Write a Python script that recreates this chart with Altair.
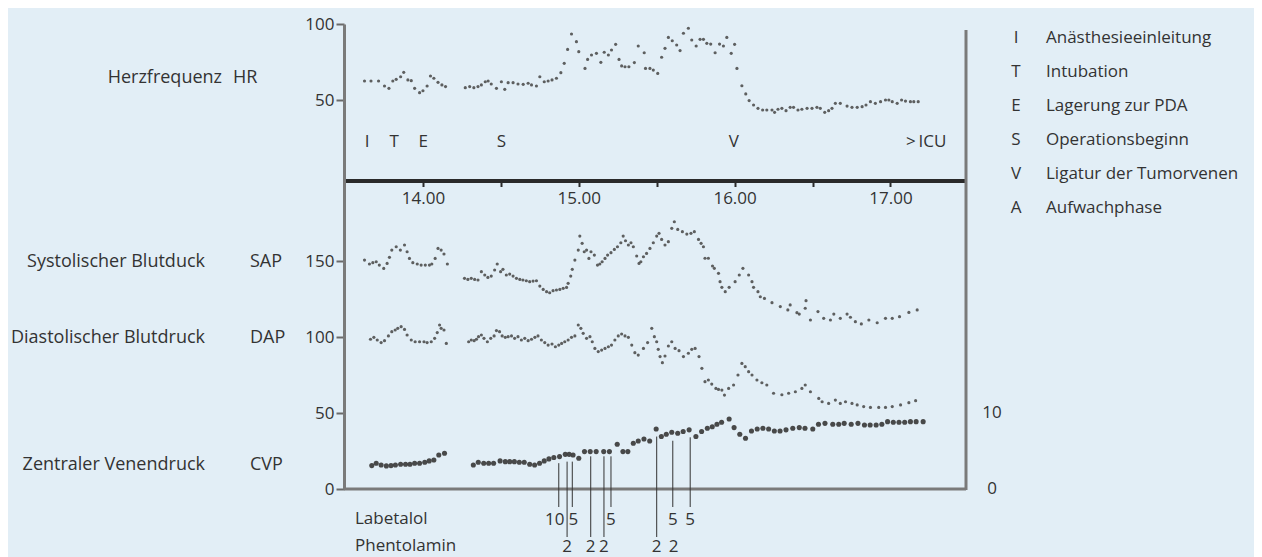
import altair as alt
import pandas as pd

# ---------------- data (time in minutes after 13:00) ----------------
HR1_T = [37.5, 40.0, 42.9, 45.2, 46.9, 48.4, 49.7, 51.4, 52.6, 54.2, 55.5, 56.8, 58.7, 60.0, 61.6, 62.9, 64.2, 65.8, 67.3, 68.7]
HR1_V = [62.5, 62.5, 62.5, 59.2, 57.7, 62.5, 63.6, 65.3, 68.2, 63.2, 62.7, 57.7, 54.8, 56.1, 59.2, 65.8, 64.3, 61.6, 59.9, 58.8]

HR2_T = [76.3, 78.0, 79.6, 81.2, 82.5, 84.0, 85.1, 86.3, 88.3, 90.2, 91.5, 92.8, 94.7, 96.6, 98.6, 100.5, 101.8, 103.7, 105.0, 106.7,
         108.2, 109.7, 111.4, 113.1, 114.4, 115.7, 117.2, 119.1, 120.0, 122.4, 123.4, 124.9, 126.8, 128.5, 129.8, 131.4, 132.6, 134.2, 135.5, 136.5,
         137.8, 139.3, 141.4, 142.9, 145.2, 145.7, 147.4, 148.7, 150.4, 151.9, 153.2, 154.5, 156.0, 157.7, 159.0, 160.3, 162.2, 163.5, 165.2, 166.7,
         168.0, 169.3, 170.8, 172.5, 174.2, 175.7, 177.0, 178.7, 180.0, 180.9, 182.8, 184.3, 185.6, 187.3, 189.0, 190.8, 192.4, 194.4, 195.4, 196.7,
         198.2, 199.8, 201.4, 202.7, 204.4, 205.9, 207.9, 209.8, 211.7, 213.0, 214.7, 216.2, 217.5, 218.8, 220.7, 223.3, 225.2, 227.2, 229.1, 230.6,
         232.3, 234.2, 236.2, 238.1, 239.4, 240.7, 242.6, 244.3, 245.8, 247.7, 249.0, 250.7]
HR2_V = [58.1, 58.8, 58.1, 58.8, 59.9, 62.0, 62.5, 60.5, 57.7, 62.0, 57.0, 61.4, 61.4, 60.5, 60.3, 61.0, 59.9, 59.2, 65.3, 62.0,
         62.5, 63.2, 64.3, 68.0, 74.1, 83.3, 93.4, 88.4, 81.8, 70.8, 76.7, 79.6, 80.7, 74.8, 81.4, 79.6, 82.9, 86.6, 76.7, 72.4,
         71.9, 71.9, 74.6, 85.5, 81.1, 70.8, 70.8, 69.7, 67.5, 78.1, 84.0, 91.2, 89.0, 86.2, 82.5, 93.9, 97.2, 89.5, 85.5, 89.9,
         89.9, 87.3, 86.8, 81.1, 86.8, 85.5, 91.2, 80.7, 86.6, 70.8, 59.4, 54.0, 49.6, 46.7, 44.5, 43.4, 43.4, 43.4, 41.9, 43.9,
         44.5, 43.0, 45.2, 45.2, 43.4, 43.9, 44.5, 44.5, 45.2, 44.5, 41.9, 43.0, 44.5, 47.8, 47.8, 46.0, 45.2, 45.2, 45.6, 46.7,
         48.9, 47.8, 48.9, 50.0, 50.0, 48.9, 47.8, 50.0, 49.3, 48.9, 48.9, 48.9]

SAP1_T = [37.5, 39.4, 40.7, 42.0, 43.2, 44.9, 46.2, 47.1, 48.0, 49.7, 51.3, 52.9, 53.9, 54.8, 56.1, 57.8, 59.3, 60.9, 62.5, 63.4, 64.7, 65.8, 67.0, 68.1, 69.4]
SAP1_V = [150.6, 148.0, 148.9, 149.5, 147.3, 145.1, 148.4, 152.4, 157.2, 159.4, 157.2, 160.5, 156.1, 151.7, 148.9, 148.0, 147.3, 147.3, 147.3, 148.0, 151.7, 158.3, 157.2, 154.6, 148.0]

SAP2_T = [76.0, 77.3, 78.6, 79.9, 81.2, 82.5, 83.8, 85.0, 86.3, 87.6, 88.6, 89.9, 90.8, 92.1, 93.4, 94.7, 96.0, 97.3, 98.5, 99.8,
          101.1, 102.4, 103.7, 105.0, 106.3, 107.6, 108.8, 110.1, 111.4, 112.7, 114.0, 115.3, 115.9, 116.9, 117.5, 118.5, 119.8, 120.4, 121.3, 122.1,
          123.0, 123.9, 124.7, 126.0, 127.2, 128.1, 129.0, 130.1, 131.1, 132.4, 133.7, 134.9, 136.2, 137.1, 138.0, 139.1, 140.1, 141.0, 142.3, 143.2,
          143.9, 144.9, 146.1, 147.4, 148.7, 150.0, 150.9, 151.9, 153.2, 154.5, 155.8, 156.8, 158.1, 159.9, 161.6, 163.2, 164.5, 166.1, 167.1, 168.0,
          168.6, 169.9, 171.5, 172.2, 173.8, 174.4, 175.1, 176.4, 177.9, 180.2, 181.8, 183.2, 185.4, 186.7, 187.3, 189.0, 189.9, 191.5, 194.4, 197.6,
          200.5, 201.4, 204.0, 204.9, 207.2, 207.5, 209.2, 212.1, 214.3, 216.9, 218.2, 220.7, 223.3, 224.6, 226.5, 228.8, 231.7, 234.9, 238.1, 240.7,
          243.5, 247.1, 250.3]
SAP2_V = [138.6, 137.9, 138.6, 137.9, 137.5, 143.0, 140.8, 139.2, 140.1, 144.1, 148.0, 143.0, 144.5, 140.8, 141.4, 140.1, 138.6, 137.9, 137.5, 137.0,
          136.4, 136.8, 137.0, 133.5, 131.3, 129.8, 129.1, 130.5, 130.9, 131.3, 132.0, 132.6, 135.3, 140.1, 144.5, 150.6, 157.2, 166.4, 161.6, 156.1,
          157.2, 151.7, 156.1, 153.9, 147.3, 148.0, 149.5, 151.7, 153.9, 155.5, 157.6, 159.4, 162.0, 166.4, 163.3, 160.5, 162.0, 159.4, 153.3, 148.4,
          149.5, 152.8, 155.0, 158.3, 162.0, 166.4, 168.2, 164.2, 160.5, 162.7, 171.5, 175.8, 170.8, 169.3, 167.7, 168.2, 169.3, 164.2, 161.6, 159.4,
          151.8, 151.8, 146.7, 145.2, 141.9, 136.4, 132.7, 129.8, 132.7, 136.4, 140.8, 145.2, 140.8, 136.4, 132.7, 129.8, 126.5, 125.4, 122.6, 120.0,
          117.8, 121.1, 116.0, 115.1, 118.9, 123.9, 111.2, 116.7, 112.3, 111.2, 115.1, 112.3, 115.1, 113.0, 110.1, 108.6, 111.2, 109.4, 112.3, 112.3,
          113.4, 116.2, 117.8]

DAP1_T = [39.8, 41.1, 42.4, 43.9, 45.2, 46.7, 48.0, 49.3, 50.3, 51.6, 52.9, 53.9, 55.5, 57.0, 58.7, 60.4, 61.6, 63.2, 64.5, 65.5, 66.4, 67.0, 68.1, 69.0]
DAP1_V = [98.5, 99.8, 98.0, 96.3, 97.6, 100.7, 103.5, 104.6, 105.7, 106.8, 105.0, 101.3, 98.0, 96.9, 96.9, 96.9, 96.3, 96.9, 99.1, 102.9, 107.9, 105.7, 104.6, 95.8]

DAP2_T = [77.6, 78.6, 79.7, 80.6, 81.4, 82.5, 83.5, 84.8, 86.1, 87.4, 88.3, 89.5, 90.5, 91.7, 92.8, 94.1, 95.3, 96.6, 97.9, 99.2,
          100.5, 101.8, 103.1, 104.3, 105.6, 106.9, 108.2, 109.7, 111.0, 112.3, 113.4, 114.6, 115.9, 117.2, 118.5, 119.8, 120.8, 121.7, 123.0, 124.3,
          125.2, 126.2, 127.5, 128.8, 130.1, 131.4, 132.6, 133.9, 135.2, 136.5, 137.8, 139.1, 140.4, 141.6, 142.9, 144.9, 146.5, 148.1, 149.1, 150.0,
          150.6, 151.3, 152.2, 153.2, 154.5, 155.8, 157.1, 158.6, 160.3, 162.2, 163.5, 164.8, 166.3, 167.4, 168.6, 169.9, 171.2, 172.8, 173.8, 175.1,
          176.1, 177.7, 179.6, 181.3, 182.8, 184.1, 185.4, 186.7, 188.6, 190.5, 192.4, 195.0, 198.2, 200.8, 203.4, 205.9, 207.2, 209.2, 212.4, 213.7,
          216.2, 218.8, 220.7, 222.7, 225.2, 227.2, 229.7, 232.3, 235.5, 238.1, 240.7, 243.9, 247.1, 249.7]
DAP2_V = [96.9, 98.0, 97.6, 98.5, 100.2, 101.3, 99.1, 96.9, 99.1, 100.7, 104.2, 103.5, 100.7, 99.8, 100.2, 100.7, 99.1, 100.2, 98.0, 99.1,
          97.6, 98.5, 99.8, 100.7, 98.0, 96.3, 94.7, 95.4, 93.6, 94.7, 95.8, 96.9, 98.0, 99.8, 100.7, 107.9, 105.7, 102.4, 99.1, 100.2,
          96.9, 92.5, 90.4, 91.4, 92.5, 93.6, 94.7, 98.0, 100.7, 102.0, 100.7, 99.8, 94.7, 89.7, 88.1, 92.5, 96.3, 105.7, 100.2, 96.9,
          91.9, 87.1, 83.1, 87.5, 94.1, 96.9, 92.5, 91.0, 87.1, 89.3, 91.9, 92.5, 87.1, 79.4, 70.6, 71.7, 69.0, 66.2, 65.5, 65.1,
          61.8, 66.2, 68.4, 75.0, 82.6, 80.5, 77.2, 75.0, 71.7, 69.9, 68.4, 63.0, 62.0, 63.0, 64.0, 66.2, 68.4, 64.0, 59.6, 57.4,
          56.3, 58.5, 56.3, 57.4, 56.3, 55.3, 54.2, 53.7, 53.7, 53.7, 54.2, 55.3, 56.8, 58.1]

CVP1_T = [40.3, 42.0, 43.9, 45.9, 47.7, 49.4, 51.4, 53.3, 55.0, 56.8, 58.7, 60.7, 62.4, 64.2, 66.1, 68.3]
CVP1_V = [3.08, 3.38, 3.16, 3.04, 3.08, 3.16, 3.26, 3.26, 3.26, 3.38, 3.38, 3.52, 3.70, 3.82, 4.48, 4.70]

CVP2_T = [79.4, 81.3, 83.4, 85.3, 87.2, 89.7, 91.7, 93.4, 95.2, 97.1, 99.0, 101.1, 103.0, 104.9, 106.7, 108.5, 110.4, 112.6, 114.8, 116.3,
          117.8, 120.0, 122.2, 124.4, 126.7, 129.6, 131.8, 134.8, 137.0, 138.9, 141.0, 142.9, 145.1, 147.3, 149.8, 151.8, 153.7, 155.8, 158.1, 160.2,
          162.5, 165.1, 167.3, 169.5, 171.4, 173.2, 175.0, 177.9, 179.8, 182.0, 184.2, 186.5, 188.7, 190.9, 193.1, 195.3, 197.5, 199.8, 202.4, 204.9,
          207.1, 210.1, 212.3, 214.8, 217.8, 220.1, 222.2, 224.9, 227.5, 230.0, 232.2, 234.5, 236.7, 238.9, 241.1, 243.3, 245.5, 247.7, 249.9, 252.6]
CVP2_V = [3.16, 3.52, 3.38, 3.38, 3.38, 3.70, 3.60, 3.60, 3.60, 3.52, 3.52, 3.26, 3.16, 3.38, 3.70, 3.96, 4.14, 4.26, 4.56, 4.56,
          4.48, 4.04, 4.92, 4.92, 4.92, 4.92, 4.92, 5.88, 4.92, 4.92, 6.02, 6.32, 6.58, 6.32, 7.90, 6.90, 7.20, 7.46, 7.34, 7.56,
          7.78, 6.90, 7.56, 8.00, 8.20, 8.52, 8.78, 9.22, 8.08, 7.20, 6.68, 7.64, 7.90, 8.00, 7.90, 7.64, 7.64, 7.78, 8.00, 8.08,
          8.00, 7.90, 8.52, 8.64, 8.52, 8.52, 8.64, 8.52, 8.64, 8.42, 8.42, 8.42, 8.52, 8.86, 8.78, 8.78, 8.78, 8.86, 8.86, 8.86]

# drug boluses (time, dose, CVP level where the marker line starts)
LAB_T = [112.3, 117.5, 132.4, 156.2, 162.9]
LAB_DOSE = ["10", "5", "5", "5", "5"]
LAB_TOP = [3.8, 4.0, 4.7, 6.75, 7.2]
PHE_T = [115.5, 124.6, 129.7, 150.0, 156.5]
PHE_DOSE = ["2", "2", "2", "2", "2"]
PHE_TOP = [4.0, 4.7, 4.7, 7.3]          # the last bolus has no own line

EVENT_T = [38.5, 48.9, 60.1, 90.2, 179.7, 253.8]
EVENT_LBL = ["I", "T", "E", "S", "V", ">\u2009ICU"]
EVENT_HR_LEVEL = 22.4

LEGEND_KEY = ["I", "T", "E", "S", "V", "A"]
LEGEND_TXT = ["Anästhesieeinleitung", "Intubation", "Lagerung zur PDA", "Operationsbeginn",
              "Ligatur der Tumorvenen", "Aufwachphase"]

ROW_NAME = ["Herzfrequenz", "Systolischer Blutduck", "Diastolischer Blutdruck", "Zentraler Venendruck"]
ROW_ABBR = ["HR", "SAP", "DAP", "CVP"]
ROW_LEVEL = [64.5, 149.3, 99.3, 3.16]      # in the units of each series

HR_TICKS = [50, 100]
BP_TICKS = [0, 50, 100, 150]
CVP_TICKS = [0, 10]
DRUG_NAMES = ["Labetalol", "Phentolamin"]

# ---------------- layout ----------------
W, H = 622, 465
K = 76 / 50                 # pixels per mmHg
TOP = H / K
HR_OFF = TOP - 100          # upper panel: HR 100 at the top of the plot
CVP_F = 5                   # right scale: 10 == 50 on the left
X_DOM = [29.6, 269.1]
PXM = W / (X_DOM[1] - X_DOM[0])   # pixels per minute
FONT = "Open Sans"
INK = "#333333"
DOT = "#4f4f4f"
BG = "#e2eef6"
FS = 17
ROW_FS = 18
NAME_END_PX = [-122, -139, -139, -139]
ABBR_START_PX = [-111, -94, -94, -94]
LAB_SHIFT_PX = [-4, 1, 0, 0, 0]
ROW2_PX = H + 57


def xv(px):   # horizontal layout position (px from plot left) -> time units
    return X_DOM[0] + px / PXM


def yv(px):   # vertical layout position (px from plot top) -> y units
    return TOP - px / K


for a, b in [(HR1_T, HR1_V), (HR2_T, HR2_V), (SAP1_T, SAP1_V), (SAP2_T, SAP2_V),
             (DAP1_T, DAP1_V), (DAP2_T, DAP2_V), (CVP1_T, CVP1_V), (CVP2_T, CVP2_V)]:
    assert len(a) == len(b), (len(a), len(b))

small = []
for T, V, off in [(HR1_T, HR1_V, HR_OFF), (HR2_T, HR2_V, HR_OFF), (SAP1_T, SAP1_V, 0),
                  (SAP2_T, SAP2_V, 0), (DAP1_T, DAP1_V, 0), (DAP2_T, DAP2_V, 0)]:
    small += [{"t": t, "y": v + off} for t, v in zip(T, V)]
small = pd.DataFrame(small)
big = pd.DataFrame([{"t": t, "y": v * CVP_F} for t, v in zip(CVP1_T + CVP2_T, CVP1_V + CVP2_V)])

xs = alt.Scale(domain=X_DOM, nice=False, zero=False)
ys = alt.Scale(domain=[0, TOP], nice=False, zero=False)

x_axis = alt.Axis(values=list(range(60, 241, 30)),
                  labelExpr="datum.value % 60 == 0 ? (13 + datum.value / 60) + '.00' : ''",
                  offset=-(H - 156.5), domainWidth=4, domainColor="#2a2a2a", tickColor="#2a2a2a",
                  tickWidth=2, tickSize=6, labelFontSize=FS, labelColor=INK, labelFont=FONT,
                  labelPadding=4, grid=False, title=None, labelFlush=False)
y_axis = alt.Axis(values=BP_TICKS + [HR_OFF + v for v in HR_TICKS],
                  labelExpr=f"'' + round(datum.value > 200 ? datum.value - {HR_OFF} : datum.value)",
                  tickSize=8, tickWidth=2, tickColor="#6a6a6a", domainColor="#7a7a7a", domainWidth=3,
                  labelFontSize=FS, labelColor=INK, labelFont=FONT, labelPadding=2, grid=False, title=None)


def X(f):
    return alt.X(f, scale=xs, axis=x_axis)


def Y(f):
    return alt.Y(f, scale=ys, axis=y_axis)


dots_small = alt.Chart(small).mark_circle(size=10, color=DOT, opacity=0.9).encode(x=X("t:Q"), y=Y("y:Q"))
dots_big = alt.Chart(big).mark_circle(size=26, color="#3f3f3f", opacity=0.95).encode(x=X("t:Q"), y=Y("y:Q"))

one = pd.DataFrame({"a": [0]})
frame_bottom = alt.Chart(one).mark_rule(color="#7a7a7a", strokeWidth=3).encode(
    x=alt.value(0), x2=alt.value(W), y=alt.value(H))
frame_right = alt.Chart(one).mark_rule(color="#7a7a7a", strokeWidth=3).encode(
    x=alt.value(W), y=alt.value(6), y2=alt.value(H + 1))

lab = pd.DataFrame({"t": LAB_T, "dose": LAB_DOSE, "top": [v * CVP_F - 2 for v in LAB_TOP],
                    "tl": [t + s / PXM for t, s in zip(LAB_T, LAB_SHIFT_PX)]})
phe = pd.DataFrame({"t": PHE_T, "dose": PHE_DOSE})
phe_l = pd.DataFrame({"t": PHE_T[:len(PHE_TOP)], "top": [v * CVP_F - 2 for v in PHE_TOP]})

lab_rules = alt.Chart(lab).mark_rule(color="#333", strokeWidth=1).encode(
    x=X("t:Q"), y=Y("top:Q"), y2=alt.value(H + 18))
phe_rules = alt.Chart(phe_l).mark_rule(color="#333", strokeWidth=1).encode(
    x=X("t:Q"), y=Y("top:Q"), y2=alt.value(ROW2_PX - 9))
txt = dict(font=FONT, fontSize=FS, color=INK)
lab_txt = alt.Chart(lab).mark_text(baseline="middle", align="center", **txt).encode(
    x=X("tl:Q"), y=alt.value(H + 31), text="dose:N")
phe_txt = alt.Chart(phe).mark_text(baseline="middle", align="center", **txt).encode(
    x=X("t:Q"), y=alt.value(ROW2_PX + 1), text="dose:N")
drug_df = pd.DataFrame({"n": DRUG_NAMES, "x": [xv(11)] * 2, "y": [yv(H + 30), yv(ROW2_PX)]})
drug_names = alt.Chart(drug_df).mark_text(baseline="middle", align="left", **txt).encode(
    x=X("x:Q"), y=Y("y:Q"), text="n:N")

ev = pd.DataFrame({"t": EVENT_T, "lbl": EVENT_LBL, "y": [HR_OFF + EVENT_HR_LEVEL] * len(EVENT_T)})
ev_txt = alt.Chart(ev).mark_text(baseline="middle", align="center", **txt).encode(
    x=X("t:Q"), y=Y("y:Q"), text="lbl:N")

rtxt = dict(font=FONT, fontSize=ROW_FS, color=INK)
rows = pd.DataFrame({"name": ROW_NAME, "abbr": ROW_ABBR,
                     "y": [ROW_LEVEL[0] + HR_OFF, ROW_LEVEL[1], ROW_LEVEL[2], ROW_LEVEL[3] * CVP_F],
                     "xe": [xv(p) for p in NAME_END_PX],
                     "xa": [xv(p) for p in ABBR_START_PX]})
row_name = alt.Chart(rows).mark_text(baseline="middle", align="right", **rtxt).encode(
    x=X("xe:Q"), y=Y("y:Q"), text="name:N")
row_abbr = alt.Chart(rows).mark_text(baseline="middle", align="left", **rtxt).encode(
    x=X("xa:Q"), y=Y("y:Q"), text="abbr:N")

cvp_ax = pd.DataFrame({"lbl": [str(v) for v in CVP_TICKS], "y": [v * CVP_F for v in CVP_TICKS],
                       "x": [xv(W + 26)] * len(CVP_TICKS)})
cvp_txt = alt.Chart(cvp_ax).mark_text(baseline="middle", align="center", **txt).encode(
    x=X("x:Q"), y=Y("y:Q"), text="lbl:N")

leg = pd.DataFrame({"k": LEGEND_KEY, "d": LEGEND_TXT,
                    "y": [yv(14 + i * 34) for i in range(len(LEGEND_KEY))],
                    "xk": [xv(672)] * len(LEGEND_KEY), "xd": [xv(702)] * len(LEGEND_KEY)})
leg_k = alt.Chart(leg).mark_text(baseline="middle", align="center", **txt).encode(
    x=X("xk:Q"), y=Y("y:Q"), text="k:N")
leg_d = alt.Chart(leg).mark_text(baseline="middle", align="left", **txt).encode(
    x=X("xd:Q"), y=Y("y:Q"), text="d:N")

chart = alt.layer(
    dots_small, dots_big, frame_bottom, frame_right, lab_rules, phe_rules, lab_txt, phe_txt,
    drug_names, ev_txt, row_name, row_abbr, cvp_txt, leg_k, leg_d
).properties(
    width=W, height=H,
    autosize=alt.AutoSizeParams(type="none"),
    padding={"left": 336, "top": 16, "right": 288, "bottom": 68},
    background=BG,
).configure_view(strokeWidth=0)

chart.save("out.html", embed_options={"renderer": "svg", "actions": False})
